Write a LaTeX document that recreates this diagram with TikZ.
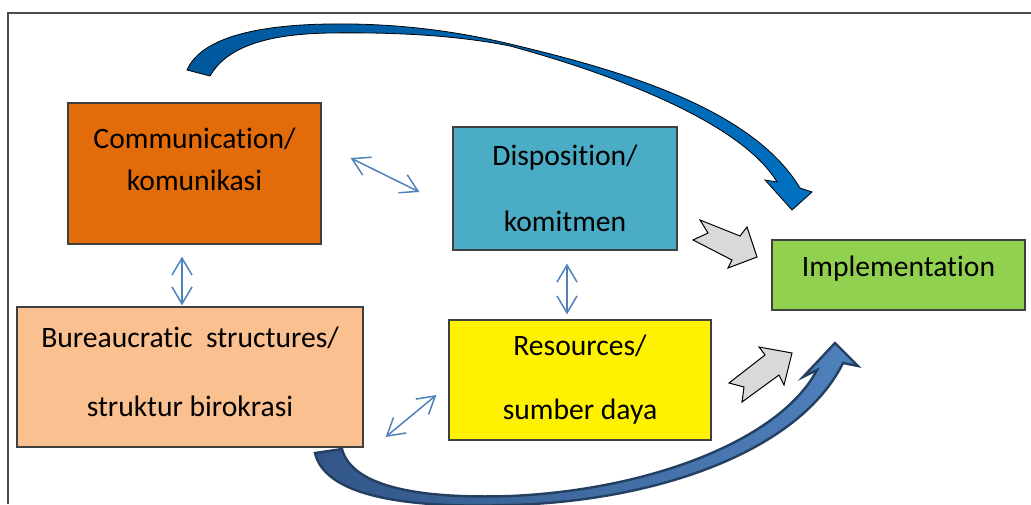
\documentclass[tikz,border=0pt]{standalone}
\usepackage{fontspec}
\setmainfont{Carlito}[Ligatures=NoCommon]
\usetikzlibrary{arrows.meta,calc}

\definecolor{commorange}{RGB}{227,108,10}
\definecolor{dispblue}{RGB}{75,172,198}
\definecolor{implgreen}{RGB}{146,208,80}
\definecolor{bureaupeach}{RGB}{250,192,144}
\definecolor{linkblue}{RGB}{79,129,189}
\definecolor{arrowgray}{RGB}{217,217,217}
\definecolor{topdark}{RGB}{0,88,156}
\definecolor{toplight}{RGB}{0,112,192}
\definecolor{botdark}{RGB}{50,86,136}
\definecolor{botlight}{RGB}{79,129,189}
\definecolor{botline}{RGB}{36,63,96}

\tikzset{
  factor/.style={draw=black!75, line width=0.6pt, align=center, inner sep=0pt,
    font=\fontsize{14.8}{17.8}\selectfont},
  link/.style={draw=linkblue, line width=0.75pt,
    {Straight Barb[length=8.5pt,width=10pt]}-{Straight Barb[length=8.5pt,width=10pt]}},
  grayarrow/.style={fill=arrowgray, draw=black, line width=0.5pt, line join=miter},
}

\begin{document}
\begin{tikzpicture}[x=0.5pt,y=-0.5pt]
    \useasboundingbox (0,0) rectangle (1031,504);
    \draw[black!70, line width=0.75pt] (1031,13) -- (8,13) -- (8,504);

    % the five factors
    \node[factor, fill=commorange, minimum width=126.5pt, minimum height=70.5pt, text depth=14.5pt] (comm) at (194.5,173.5) {Communication/\\[3.2pt]komunikasi};
    \node[factor, fill=dispblue, minimum width=112pt, minimum height=61.5pt] (disp) at (565,188.5) {Disposition/\\[15.2pt]komitmen};
    \node[factor, fill=implgreen, minimum width=126.5pt, minimum height=35pt, text depth=8.5pt] (impl) at (898.5,275) {Implementation};
    \node[factor, fill=bureaupeach, minimum width=173pt, minimum height=70pt, text depth=5.5pt] (bureau) at (190,377) {Bureaucratic\ \ structures/\\[16.7pt]struktur birokrasi};
    \node[factor, fill=yellow, minimum width=131pt, minimum height=60pt] (res) at (580,380) {Resources/\\[14.2pt]sumber daya};

    % links between factors
    \draw[link] ($(comm.east)+(29,-15.5)$) -- ($(disp.west)+(-33,3.5)$);
    \draw[link] ($(comm.south)+(-12.5,12)$) -- ($(bureau.north)+(-8,-1)$);
    \draw[link] ($(disp.south)+(2,13)$) -- ($(res.north)+(-13,-5)$);
    \draw[link] ($(bureau.east)+(22,60)$) -- ($(res.west)+(-12,15)$);

    % gray block arrows
    \draw[grayarrow] (700,220) -- (740,236) -- (747,227) -- (757,257) -- (728,268) -- (732,260) -- (693,240) -- (708,233) -- cycle;
    \draw[grayarrow] (729,383) -- (765,355) -- (759,347) -- (792,353) -- (784,385) -- (779,375) -- (742,402) -- (744,387) -- cycle;

    % curved arrow over the top
    \draw[black, line width=0.4pt, line join=miter, left color=topdark, right color=toplight]
        (187,70) .. controls (200,40) and (250,25) .. (330,24)
        .. controls (400,23) and (460,32) .. (510,44)
        .. controls (620,70) and (752,108) .. (800,188)
        -- (812,192) -- (792,210) -- (765,180) -- (777,182)
        .. controls (742,124) and (620,76) .. (510,46)
        .. controls (460,36) and (400,32) .. (330,33)
        .. controls (260,34) and (225,50) .. (210,76) -- cycle;

    % curved arrow along the bottom
    \draw[botline, line width=1.2pt, line join=miter, left color=botdark, right color=botlight]
        (315,453) .. controls (326,500) and (420,508) .. (510,505)
        .. controls (660,501) and (800,450) .. (843,363)
        -- (858,366) -- (835,343) -- (803,377) -- (817,370)
        .. controls (780,440) and (650,490) .. (510,496)
        .. controls (420,499) and (352,487) .. (342,449) -- cycle;
\end{tikzpicture}
\end{document}
